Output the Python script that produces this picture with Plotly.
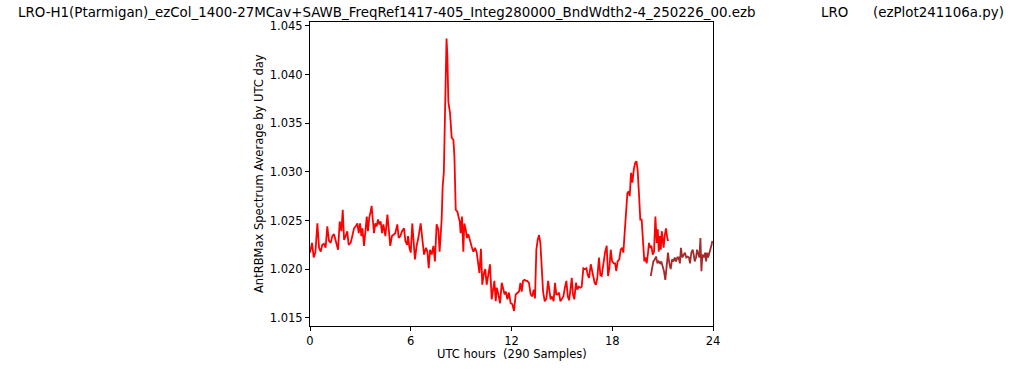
import plotly.graph_objects as go

# Red series (UTC hours, value)
red_hours = [0.00, 0.12, 0.22, 0.32, 0.44, 0.54, 0.64, 0.73, 0.83, 0.93, 1.03, 1.13, 1.23, 1.33, 1.43, 1.53,
             1.67, 1.77, 1.87, 1.95, 2.03, 2.12, 2.22, 2.30, 2.42, 2.52, 2.62, 2.72, 2.82, 2.90, 2.98, 3.06,
             3.12, 3.22, 3.30, 3.38, 3.45, 3.53, 3.61, 3.67, 3.75, 3.81, 3.89, 3.97, 4.05, 4.13, 4.21, 4.29,
             4.37, 4.49, 4.61, 4.71, 4.78, 4.88, 4.98, 5.08, 5.20, 5.28, 5.38, 5.48, 5.60, 5.68, 5.78, 5.84,
             5.92, 6.00, 6.09, 6.25, 6.35, 6.45, 6.59, 6.69, 6.79, 6.91, 6.99, 7.07, 7.15, 7.25, 7.35, 7.44,
             7.54, 7.64, 7.72, 7.84, 7.90, 7.97, 8.13, 8.18, 8.24, 8.34, 8.44, 8.54, 8.60, 8.68, 8.78, 8.84,
             8.92, 8.97, 9.05, 9.13, 9.19, 9.27, 9.35, 9.43, 9.53, 9.63, 9.73, 9.83, 9.93, 10.03, 10.09, 10.18,
             10.26, 10.36, 10.44, 10.52, 10.62, 10.72, 10.82, 10.88, 10.98, 11.06, 11.12, 11.22, 11.32, 11.42,
             11.51, 11.59, 11.67, 11.75, 11.85, 11.95, 12.05, 12.15, 12.25, 12.35, 12.45, 12.53, 12.61, 12.69,
             12.77, 12.87, 12.94, 13.04, 13.14, 13.24, 13.32, 13.40, 13.48, 13.56, 13.64, 13.72, 13.80, 13.88,
             13.98, 14.08, 14.18, 14.26, 14.33, 14.41, 14.51, 14.59, 14.67, 14.75, 14.83, 14.91, 15.01, 15.09,
             15.19, 15.27, 15.35, 15.43, 15.51, 15.59, 15.66, 15.74, 15.84, 15.92, 16.00, 16.10, 16.18, 16.28,
             16.38, 16.46, 16.54, 16.62, 16.72, 16.80, 16.88, 16.95, 17.03, 17.11, 17.21, 17.29, 17.37, 17.47,
             17.57, 17.67, 17.75, 17.83, 17.91, 17.99, 18.09, 18.17, 18.24, 18.32, 18.42, 18.50, 18.58, 18.66,
             18.74, 18.82, 18.90, 18.98, 19.04, 19.12, 19.20, 19.28, 19.36, 19.44, 19.51, 19.59, 19.67, 19.75,
             19.83, 19.91, 19.97, 20.05, 20.13, 20.19, 20.25, 20.33, 20.41, 20.49, 20.57, 20.65, 20.71, 20.77,
             20.83, 20.89, 20.95, 21.01, 21.06, 21.12, 21.20, 21.26, 21.32]
red_values = [1.0217, 1.0227, 1.0212, 1.0217, 1.0247, 1.0222, 1.0218, 1.0225, 1.0226, 1.0222, 1.0244, 1.0229,
              1.0227, 1.0234, 1.0236, 1.0230, 1.0220, 1.0249, 1.0239, 1.0261, 1.0230, 1.0234, 1.0239, 1.0225,
              1.0227, 1.0234, 1.0242, 1.0244, 1.0247, 1.0237, 1.0247, 1.0234, 1.0242, 1.0224, 1.0244, 1.0254,
              1.0239, 1.0253, 1.0259, 1.0265, 1.0249, 1.0237, 1.0247, 1.0244, 1.0251, 1.0246, 1.0249, 1.0237,
              1.0246, 1.0234, 1.0256, 1.0232, 1.0224, 1.0234, 1.0236, 1.0237, 1.0246, 1.0232, 1.0234, 1.0239,
              1.0242, 1.0229, 1.0225, 1.0234, 1.0222, 1.0217, 1.0247, 1.0210, 1.0224, 1.0232, 1.0247, 1.0232,
              1.0215, 1.0222, 1.0218, 1.0201, 1.0220, 1.0215, 1.0224, 1.0208, 1.0246, 1.0241, 1.0218, 1.0251,
              1.0285, 1.0299, 1.0437, 1.0420, 1.0372, 1.0360, 1.0335, 1.0333, 1.0316, 1.0261, 1.0259, 1.0254,
              1.0249, 1.0237, 1.0254, 1.0218, 1.0247, 1.0241, 1.0232, 1.0236, 1.0228, 1.0223, 1.0218, 1.0222,
              1.0217, 1.0200, 1.0196, 1.0221, 1.0184, 1.0196, 1.0200, 1.0184, 1.0193, 1.0205, 1.0169, 1.0177,
              1.0188, 1.0167, 1.0181, 1.0174, 1.0165, 1.0186, 1.0179, 1.0174, 1.0177, 1.0169, 1.0176, 1.0165,
              1.0164, 1.0157, 1.0174, 1.0176, 1.0177, 1.0186, 1.0177, 1.0188, 1.0189, 1.0188, 1.0188, 1.0186,
              1.0174, 1.0172, 1.0179, 1.0170, 1.0220, 1.0230, 1.0235, 1.0227, 1.0200, 1.0177, 1.0167, 1.0170,
              1.0188, 1.0177, 1.0169, 1.0172, 1.0167, 1.0186, 1.0174, 1.0174, 1.0176, 1.0167, 1.0170, 1.0172,
              1.0182, 1.0188, 1.0172, 1.0168, 1.0179, 1.0191, 1.0174, 1.0169, 1.0186, 1.0179, 1.0182, 1.0181,
              1.0182, 1.0201, 1.0200, 1.0201, 1.0194, 1.0191, 1.0205, 1.0198, 1.0191, 1.0186, 1.0184, 1.0191,
              1.0212, 1.0194, 1.0193, 1.0206, 1.0217, 1.0224, 1.0193, 1.0201, 1.0220, 1.0208, 1.0206, 1.0206,
              1.0198, 1.0208, 1.0210, 1.0220, 1.0222, 1.0217, 1.0237, 1.0266, 1.0278, 1.0280, 1.0275, 1.0299,
              1.0289, 1.0302, 1.0309, 1.0311, 1.0302, 1.0278, 1.0251, 1.0251, 1.0224, 1.0208, 1.0212, 1.0206,
              1.0217, 1.0227, 1.0222, 1.0224, 1.0215, 1.0218, 1.0254, 1.0227, 1.0241, 1.0218, 1.0234, 1.0220,
              1.0239, 1.0227, 1.0222, 1.0234, 1.0242, 1.0234, 1.0229]

# Dark red series (UTC hours, value)
dark_hours = [20.29, 20.37, 20.45, 20.53, 20.61, 20.69, 20.77, 20.85, 20.92, 21.00, 21.08, 21.16, 21.24, 21.32,
              21.40, 21.48, 21.56, 21.64, 21.72, 21.80, 21.88, 21.95, 22.03, 22.09, 22.17, 22.25, 22.33, 22.41,
              22.49, 22.57, 22.63, 22.71, 22.79, 22.85, 22.91, 22.99, 23.05, 23.13, 23.19, 23.25, 23.31, 23.37,
              23.45, 23.53, 23.59, 23.65, 23.71, 23.76, 23.82, 23.90, 23.96]
dark_values = [1.0193, 1.0201, 1.0208, 1.0210, 1.0213, 1.0206, 1.0208, 1.0206, 1.0208, 1.0203, 1.0198, 1.0189,
               1.0208, 1.0217, 1.0206, 1.0200, 1.0210, 1.0208, 1.0212, 1.0208, 1.0212, 1.0212, 1.0206, 1.0222,
               1.0212, 1.0215, 1.0217, 1.0212, 1.0213, 1.0212, 1.0206, 1.0217, 1.0220, 1.0215, 1.0208, 1.0212,
               1.0220, 1.0215, 1.0212, 1.0232, 1.0198, 1.0215, 1.0212, 1.0217, 1.0208, 1.0217, 1.0212, 1.0215,
               1.0218, 1.0224, 1.0229]

x_ticks = [0, 6, 12, 18, 24]
y_ticks = [1.015, 1.020, 1.025, 1.030, 1.035, 1.040, 1.045]

title_main = "LRO-H1(Ptarmigan)_ezCol_1400-27MCav+SAWB_FreqRef1417-405_Integ280000_BndWdth2-4_250226_00.ezb"
title_mid = "LRO"
title_right = "(ezPlot241106a.py)"
x_label = "UTC hours  (290 Samples)"
y_label = "AntRBMax Spectrum Average by UTC day"

FONT = "DejaVu Sans"

fig = go.Figure()
fig.add_trace(go.Scatter(x=red_hours, y=red_values, mode="lines",
                         line=dict(color="#ff0000", width=1.8), showlegend=False))
fig.add_trace(go.Scatter(x=dark_hours, y=dark_values, mode="lines",
                         line=dict(color="#a52a2a", width=1.8), showlegend=False))

axis_common = dict(showline=True, mirror=True, linecolor="black", linewidth=1,
                   ticks="outside", ticklen=4, tickwidth=1, tickcolor="black",
                   showgrid=False, zeroline=False,
                   tickfont=dict(family=FONT, size=11.5, color="black"))

fig.update_xaxes(range=[0, 24], tickvals=x_ticks, ticktext=[str(t) for t in x_ticks], **axis_common)
fig.update_yaxes(range=[1.01416, 1.0454], tickvals=y_ticks,
                 ticktext=["%.3f" % t for t in y_ticks], **axis_common)

# body margin is removed in the page, so positions are page pixels of the reference
L, T = 310, 22
PW = 403.0
PH = 304.5
R = 1024 - L - PW
B = 370 - T - PH


def px_x(p):
    return (p - L) / PW


def px_y(p):
    return (T + PH - p) / PH


TSIZE = 13.4
ann = []
ann.append(dict(text=title_main, xref="paper", yref="paper", x=px_x(16), y=px_y(12),
                xanchor="left", yanchor="middle", showarrow=False,
                font=dict(family=FONT, size=TSIZE, color="black")))
ann.append(dict(text=title_mid, xref="paper", yref="paper", x=px_x(834), y=px_y(12),
                xanchor="center", yanchor="middle", showarrow=False,
                font=dict(family=FONT, size=TSIZE, color="black")))
ann.append(dict(text=title_right, xref="paper", yref="paper", x=px_x(1006), y=px_y(12),
                xanchor="right", yanchor="middle", showarrow=False,
                font=dict(family=FONT, size=TSIZE, color="black")))
ann.append(dict(text=x_label, xref="paper", yref="paper", x=0.5, y=px_y(355),
                xanchor="center", yanchor="middle", showarrow=False,
                font=dict(family=FONT, size=11.5, color="black")))
ann.append(dict(text=y_label, xref="paper", yref="paper", x=px_x(259), y=0.5,
                xanchor="center", yanchor="middle", showarrow=False, textangle=-90,
                font=dict(family=FONT, size=11.5, color="black")))

fig.update_layout(width=1024, height=370, margin=dict(l=L, r=R, t=T, b=B),
                  paper_bgcolor="white", plot_bgcolor="white", annotations=ann)

fig.write_html("out.html", include_plotlyjs=True, full_html=True,
               config={"displayModeBar": False},
               post_script="document.body.style.margin='0';document.body.style.padding='0';")
